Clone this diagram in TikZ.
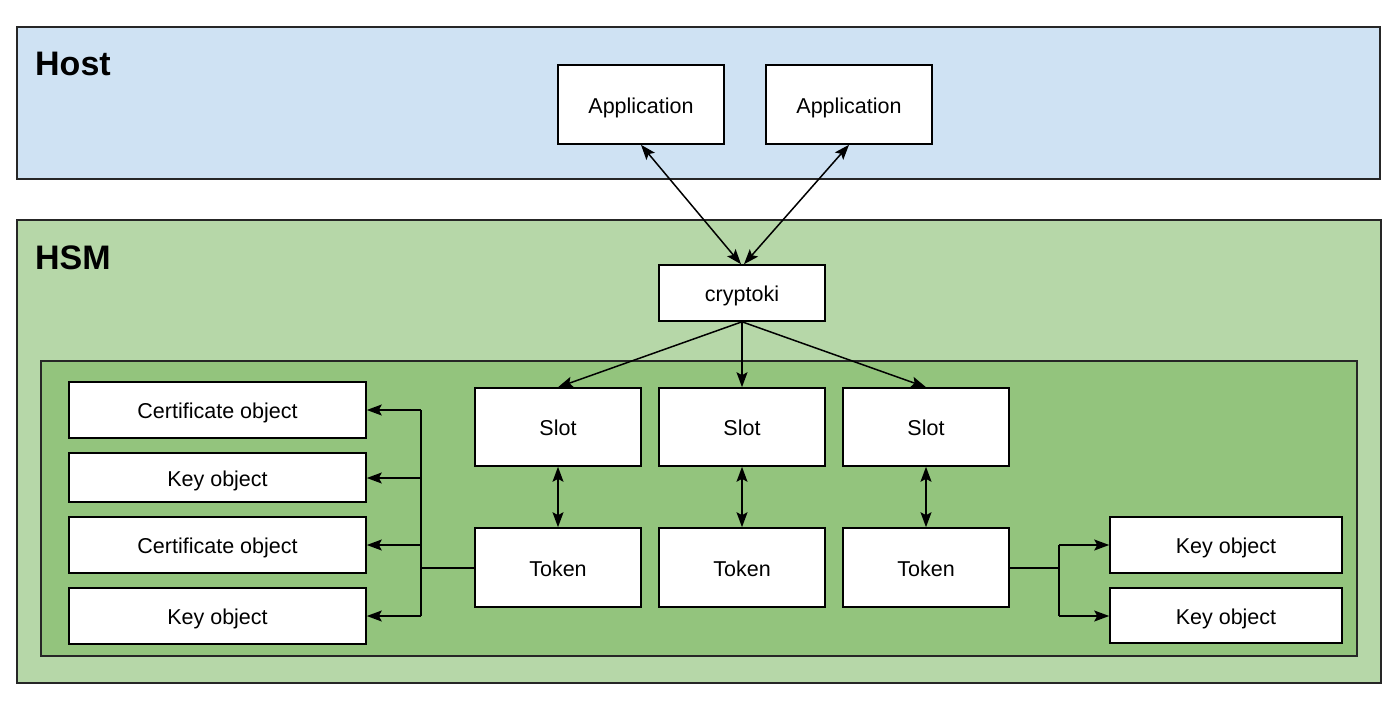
\documentclass[tikz,border=0pt]{standalone}
\usepackage{fontspec}
\setmainfont{Liberation Sans}
\usetikzlibrary{arrows.meta}
\definecolor{hostfill}{HTML}{CFE2F3}
\definecolor{hsmfill}{HTML}{B6D7A8}
\definecolor{innerfill}{HTML}{93C47D}
\begin{document}
\begin{tikzpicture}[x=1pt,y=-1pt,
  panel/.style={draw=black!85, line width=1.4pt},
  wbox/.style={draw=black, fill=white, line width=1.6pt, font=\fontsize{21.5}{24}\selectfont},
  conn/.style={line width=1.5pt, draw=black},
  tip/.style={-{Stealth[length=15pt,width=11pt,inset=3pt]}},
  dtip/.style={{Stealth[length=15pt,width=11pt,inset=3pt]}-{Stealth[length=15pt,width=11pt,inset=3pt]}},
  title/.style={anchor=north west, font=\fontsize{34}{38}\selectfont\bfseries, inner sep=0pt}]
\useasboundingbox (0,0) rectangle (1400,706);
% panels
\draw[panel, fill=hostfill] (17,27) rectangle (1380,179);
\node[title] (hostlabel) at (35,52) {Host};
\draw[panel, fill=hsmfill] (17,220) rectangle (1381,683);
\node[title] (hsmlabel) at (35,246) {HSM};
\draw[panel, fill=innerfill] (41,361) rectangle (1357,656);
% boxes
\newcommand{\wnode}[6]{\node[wbox, minimum width=#4-#2, minimum height=#5-#3, inner sep=0pt, text depth=0pt] (#1) at ({(#2+#4)/2},{(#3+#5)/2}) {\raisebox{-2pt}{#6}};}
\wnode{app1}{558}{65}{724}{144}{Application}
\wnode{app2}{766}{65}{932}{144}{Application}
\wnode{crypto}{659}{265}{825}{321}{cryptoki}
\wnode{slot1}{475}{388}{641}{466}{Slot}
\wnode{slot2}{659}{388}{825}{466}{Slot}
\wnode{slot3}{843}{388}{1009}{466}{Slot}
\wnode{tok1}{475}{528}{641}{607}{Token}
\wnode{tok2}{659}{528}{825}{607}{Token}
\wnode{tok3}{843}{528}{1009}{607}{Token}
\wnode{lo1}{69}{382}{366}{438}{Certificate object}
\wnode{lo2}{69}{453}{366}{502}{Key object}
\wnode{lo3}{69}{517}{366}{573}{Certificate object}
\wnode{lo4}{69}{588}{366}{644}{Key object}
\wnode{ro1}{1110}{517}{1342}{573}{Key object}
\wnode{ro2}{1110}{588}{1342}{643}{Key object}
% connectors
\draw[conn, dtip] (app1.south) -- ([xshift=-1pt]crypto.north);
\draw[conn, dtip] (app2.south) -- ([xshift=2pt]crypto.north);
\draw[conn, tip] (crypto.south) -- (slot1.north);
\draw[conn, tip] (crypto.south) -- (slot2.north);
\draw[conn, tip] (crypto.south) -- (slot3.north);
\draw[conn, dtip] (slot1) -- (tok1);
\draw[conn, dtip] (slot2) -- (tok2);
\draw[conn, dtip] (slot3) -- (tok3);
% left fan
\coordinate (lj) at (421,568);
\draw[conn] (tok1.west |- lj) -- (lj);
\draw[conn] (421,410) -- (421,616);
\draw[conn, tip] (421,410) -- (lo1.east |- 0,410);
\draw[conn, tip] (421,478) -- (lo2.east |- 0,478);
\draw[conn, tip] (421,545) -- (lo3.east |- 0,545);
\draw[conn, tip] (421,616) -- (lo4.east |- 0,616);
% right fan
\coordinate (rj) at (1059,568);
\draw[conn] (tok3.east |- rj) -- (rj);
\draw[conn] (1059,545) -- (1059,616);
\draw[conn, tip] (1059,545) -- (ro1.west);
\draw[conn, tip] (1059,616) -- (ro2.west |- 0,616);
\end{tikzpicture}
\end{document}
